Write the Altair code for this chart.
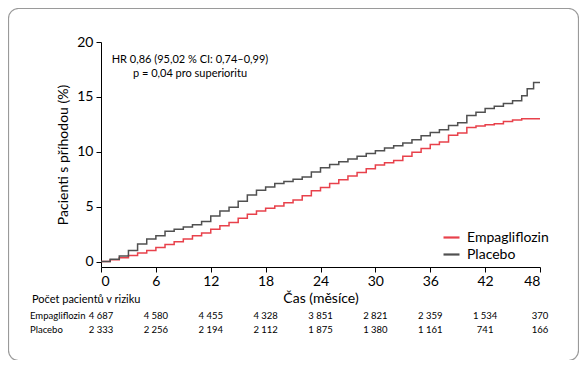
import altair as alt
import pandas as pd

# --- data ---
empa_t = list(range(0, 49))
empa_v = [0, 0.15, 0.35, 0.55, 0.78, 1.0, 1.28, 1.55, 1.8, 2.05, 2.35, 2.6, 2.95,
          3.25, 3.55, 3.95, 4.3, 4.6, 4.85, 5.05, 5.35, 5.6, 6.0, 6.45, 6.75,
          7.1, 7.45, 7.8, 8.1, 8.45, 8.8, 9.0, 9.2, 9.6, 9.95, 10.3, 10.65,
          10.9, 11.5, 11.7, 12.2, 12.35, 12.45, 12.55, 12.75, 12.9, 13.0, 13.0, 13.0]

plac_t = list(range(0, 47)) + [46.6, 47.3, 48]
plac_v = [0, 0.2, 0.5, 1.0, 1.6, 2.05, 2.35, 2.75, 2.95, 3.15, 3.35, 3.65, 4.15,
          4.6, 4.95, 5.5, 6.05, 6.5, 6.8, 7.1, 7.3, 7.5, 7.7, 8.15, 8.55,
          8.85, 9.1, 9.35, 9.6, 9.85, 10.1, 10.35, 10.55, 10.8, 11.1, 11.45, 11.75,
          12.0, 12.4, 12.65, 13.3, 13.6, 13.95, 14.15, 14.4, 14.65, 15.1, 15.75, 16.3, 16.3]

arms = ["Empagliflozin", "Placebo"]
colors = ["#e8414b", "#505050"]

x_ticks = [0, 6, 12, 18, 24, 30, 36, 42, 48]
y_ticks = [0, 5, 10, 15, 20]

risk_months = [0, 6, 12, 18, 24, 30, 36, 42, 48]
empa_risk = ["4 687", "4 580", "4 455", "4 328", "3 851",
             "2 821", "2 359", "1 534", "370"]
plac_risk = ["2 333", "2 256", "2 194", "2 112", "1 875",
             "1 380", "1 161", "741", "166"]

annotation = "HR 0,86 (95,02 % CI: 0,74\u20130,99)\np = 0,04 pro superioritu"
risk_header = "Počet pacientů v riziku"
x_title = "Čas (měsíce)"
y_title = "Pacienti s příhodou (%)"

FONT = "Lato"

curves = pd.concat([
    pd.DataFrame({"t": empa_t, "v": empa_v, "arm": arms[0]}),
    pd.DataFrame({"t": plac_t, "v": plac_v, "arm": arms[1]}),
])
risk = pd.DataFrame({"t": risk_months, "empa": empa_risk, "plac": plac_risk})
one = pd.DataFrame({"a": [0]})

frame = alt.Chart(one).mark_rect(
    fillOpacity=0, stroke="#9a9a9a", strokeWidth=1.2, cornerRadius=10
).encode(x=alt.value(-92.5), x2=alt.value(477.5), y=alt.value(-33.5), y2=alt.value(318.5))

lines = alt.Chart(curves).mark_line(interpolate="step-after", strokeWidth=1.5).encode(
    x=alt.X("t:Q", scale=alt.Scale(domain=[0, 48], nice=False),
            axis=alt.Axis(values=x_ticks, title=x_title, grid=False, tickSize=5,
                          labelPadding=2, titlePadding=3, labelFontSize=14,
                          titleFontSize=14, titleFontWeight="normal")),
    y=alt.Y("v:Q", scale=alt.Scale(domain=[-0.5, 20], nice=False, zero=False),
            axis=alt.Axis(values=y_ticks, title=y_title, grid=False, tickSize=5,
                          labelPadding=3, titlePadding=6, labelFontSize=14,
                          titleFontSize=14, titleFontWeight="normal")),
    color=alt.Color("arm:N", scale=alt.Scale(domain=arms, range=colors),
                    legend=alt.Legend(title=None, orient="none", legendX=341, legendY=186,
                                      symbolType="stroke", symbolSize=256,
                                      symbolStrokeWidth=2.2, labelFontSize=14,
                                      labelFont=FONT, rowPadding=0, labelOffset=6)),
)

annot = alt.Chart(one.assign(txt=annotation)).mark_text(
    align="center", baseline="middle", fontSize=11, font=FONT, lineBreak="\n", lineHeight=13.5
).encode(x=alt.value(89), y=alt.value(18), text="txt:N")

header = alt.Chart(one.assign(txt=risk_header)).mark_text(
    align="left", baseline="alphabetic", fontSize=11, font=FONT
).encode(x=alt.value(-69), y=alt.value(261), text="txt:N")

lab1 = alt.Chart(one.assign(txt=arms[0])).mark_text(
    align="left", baseline="middle", fontSize=9.5, font=FONT
).encode(x=alt.value(-71), y=alt.value(273.5), text="txt:N")
lab2 = alt.Chart(one.assign(txt=arms[1])).mark_text(
    align="left", baseline="middle", fontSize=9.5, font=FONT
).encode(x=alt.value(-71), y=alt.value(288), text="txt:N")

num1 = alt.Chart(risk).mark_text(align="center", baseline="middle", fontSize=9.5, font=FONT).encode(
    x="t:Q", y=alt.value(273.5), text="empa:N")
num2 = alt.Chart(risk).mark_text(align="center", baseline="middle", fontSize=9.5, font=FONT).encode(
    x="t:Q", y=alt.value(288), text="plac:N")

chart = alt.layer(frame, lines, annot, header, lab1, lab2, num1, num2).properties(
    width=439, height=225,
    autosize=alt.AutoSizeParams(type="none"),
    padding={"left": 93, "top": 34, "right": 39, "bottom": 93},
).configure_view(stroke=None).configure_axis(
    domainColor="#000", tickColor="#000", labelColor="#000", titleColor="#000",
    labelFont=FONT, titleFont=FONT,
).configure_text(color="#000")

chart.save("out.html", embed_options={"renderer": "svg", "actions": False})
